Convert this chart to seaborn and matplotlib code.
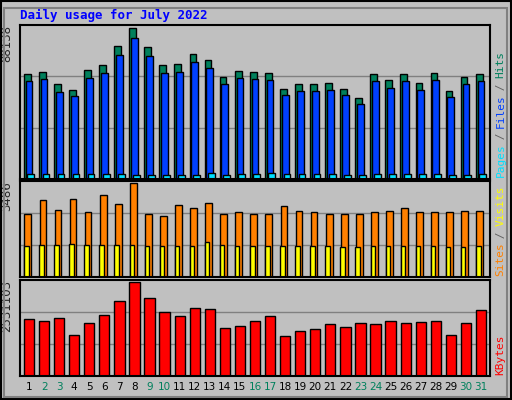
import numpy as np
import matplotlib
matplotlib.use("Agg")
import matplotlib.pyplot as plt
import seaborn as sns

days = list(range(1, 32))
weekend = [2, 3, 9, 10, 16, 17, 23, 24, 30, 31]

hits = [61200, 62400, 55200, 52200, 63600, 66600, 77400, 88138, 76800, 66600,
        67200, 73200, 69600, 59400, 63000, 62400, 61800, 52800, 55200, 55200,
        55800, 52800, 47400, 61200, 57600, 61200, 55800, 61800, 51600, 59400, 61200]
files = [57000, 58200, 51000, 48400, 59200, 62000, 72200, 82600, 71800, 62000,
         62600, 68400, 64800, 55200, 58800, 58200, 57600, 48800, 51200, 51200,
         51800, 48800, 43600, 57000, 53400, 57000, 51800, 57600, 47600, 55200, 57000]
pages = [3200, 3200, 3200, 3200, 3200, 3200, 3200, 2600, 2600, 2600,
         2600, 2600, 3600, 2600, 3200, 3200, 3400, 3200, 3200, 3200,
         3200, 2600, 2600, 3200, 3200, 3200, 3200, 3200, 2600, 2600, 3200]

visits = [2350, 2840, 2500, 2880, 2425, 3030, 2690, 3486, 2350, 2275,
          2650, 2540, 2730, 2350, 2425, 2350, 2350, 2615, 2460, 2425,
          2350, 2350, 2350, 2425, 2460, 2540, 2425, 2425, 2390, 2460, 2460]
sites = [1140, 1180, 1200, 1240, 1180, 1200, 1200, 1180, 1140, 1140,
         1160, 1160, 1280, 1200, 1160, 1140, 1140, 1160, 1140, 1140,
         1140, 1100, 1100, 1140, 1160, 1160, 1140, 1140, 1100, 1100, 1140]

kbytes = [1534000, 1478000, 1562000, 1091000, 1422000, 1645000, 2005000, 2531103,
          2088000, 1726000, 1617000, 1838000, 1810000, 1283000, 1339000, 1478000,
          1617000, 1063000, 1200000, 1255000, 1395000, 1311000, 1422000, 1395000,
          1478000, 1422000, 1450000, 1478000, 1091000, 1422000, 1774000]

sns.set_style("white")
plt.rcParams["font.family"] = ["DejaVu Sans Mono", "DejaVu Sans"]

bg = "#C0C0C0"
fig = plt.figure(figsize=(5.12, 4.0), dpi=100, facecolor=bg)
W, H = 512, 400

def box(top, bottom):
    return [20 / W, 1 - bottom / H, (490 - 20) / W, (bottom - top) / H]

ax1 = fig.add_axes(box(25, 179))
ax2 = fig.add_axes(box(181, 277))
ax3 = fig.add_axes(box(280, 376))

x = np.arange(31)
ax1.bar(x - 0.12, hits, width=0.45, color="#00805C", edgecolor="black", linewidth=1)
ax1.bar(x + 0.0, files, width=0.45, color="#0040FF", edgecolor="black", linewidth=1)
ax1.bar(x + 0.12, pages, width=0.45, color="#00E0FF", edgecolor="black", linewidth=1)

ax2.bar(x - 0.08, visits, width=0.45, color="#FF8000", edgecolor="black", linewidth=1)
ax2.bar(x - 0.18, sites, width=0.3, color="#FFFF00", edgecolor="black", linewidth=1)

sns.barplot(x=days, y=kbytes, ax=ax3, color="#FF0000", edgecolor="black",
            linewidth=1, width=0.68, saturation=1)

for ax, top, lbl in [(ax1, max(hits), "88138"), (ax2, max(visits), "3486"),
                     (ax3, max(kbytes), "2531103")]:
    ax.set_facecolor(bg)
    ax.set_xlim(-0.6, 30.6)
    ax.set_ylim(0, top * 1.02)
    ax.set_xticks([])
    ax.set_yticks([])
    for f in (1 / 3, 2 / 3):
        ax.axhline(top * 1.02 * f, color="#808080", linewidth=1, zorder=0)
    for s in ax.spines.values():
        s.set_color("black")
        s.set_linewidth(1.5)
    ax.text(-0.015, 1.0, lbl, transform=ax.transAxes, rotation=90,
            ha="right", va="top", fontsize=8.5, family="DejaVu Sans")
    ax.set_xlabel("")
    ax.set_ylabel("")

CHAR_PX = 6.2

def right_label(ax, parts):
    h_px = ax.get_position().height * H
    y = 0.01
    for txt, col in parts:
        ax.text(1.012, y, txt, transform=ax.transAxes, rotation=90,
                ha="left", va="bottom", fontsize=8, color=col)
        y += len(txt) * CHAR_PX / h_px

right_label(ax1, [("Pages", "#00E0FF"), (" / ", "#606060"), ("Files", "#0040FF"),
                  (" / ", "#606060"), ("Hits", "#00805C")])
right_label(ax2, [("Sites", "#FF8000"), (" / ", "#606060"), ("Visits", "#FFFF00")])
right_label(ax3, [("KBytes", "#FF0000")])

for i, d in enumerate(days):
    ax3.text(i, -0.06, str(d), transform=ax3.get_xaxis_transform(), ha="center",
             va="top", fontsize=7.5, family="DejaVu Sans",
             color="#00805C" if d in weekend else "black")

fig.text(20 / W, 1 - 15 / H, "Daily usage for July 2022", color="#0000FF",
         fontsize=9, fontweight="bold", va="center", ha="left")

# outer frame
fig.patches.append(plt.Rectangle((0.002, 0.002), 0.996, 0.996, transform=fig.transFigure,
                                 fill=False, edgecolor="black", linewidth=1.5))
fig.patches.append(plt.Rectangle((0.008, 0.008), 0.982, 0.972, transform=fig.transFigure,
                                 fill=False, edgecolor="#808080", linewidth=1.5))

fig.savefig("out.png", dpi=100, facecolor=bg)
